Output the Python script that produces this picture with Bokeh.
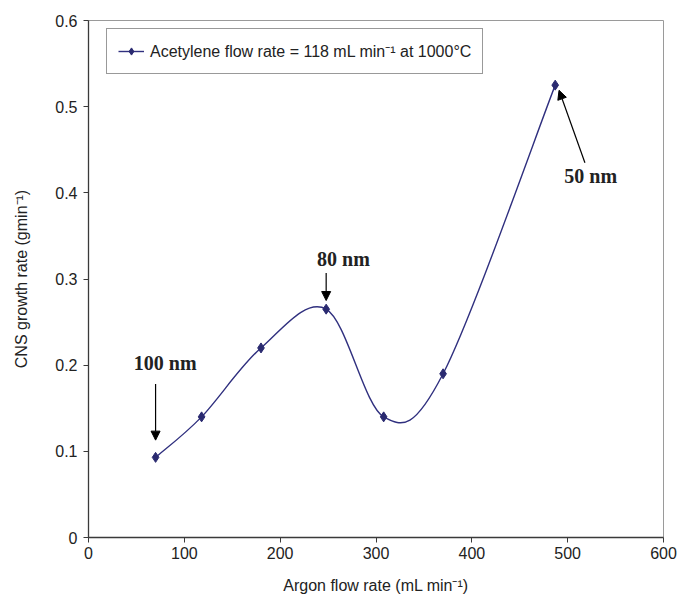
from bokeh.plotting import figure
from bokeh.models import (Range1d, FixedTicker, CustomJSTickFormatter, Arrow,
                          NormalHead, Legend, LegendItem, ColumnDataSource)
from bokeh.core.properties import value
from bokeh.embed import file_html
from bokeh.resources import INLINE
import numpy as np

# ---------------- data ----------------
argon_flow = [70, 118, 180, 248, 308, 370, 487]
growth_rate = [0.093, 0.14, 0.22, 0.265, 0.14, 0.19, 0.525]
x_ticks = [0, 100, 200, 300, 400, 500, 600]
y_ticks = [0, 0.1, 0.2, 0.3, 0.4, 0.5, 0.6]
series_label = "Acetylene flow rate = 118 mL min\u207b\u00b9 at 1000\u00b0C"
x_title = "Argon flow rate (mL min\u207b\u00b9)"
y_title = "CNS growth rate (gmin\u207b\u00b9)"

size_labels = ["100 nm", "80 nm", "50 nm"]
size_label_x = [80, 266, 524]
size_label_y = [0.203, 0.323, 0.42]
arrow_x_start = [70, 248, 518]
arrow_y_start = [0.178, 0.307, 0.435]
arrow_x_end = [70, 248, 491]
arrow_y_end = [0.113, 0.275, 0.519]

LINE_COLOR = "#30307f"
MARK_COLOR = "#2a2a70"

# ---------------- smooth curve (Catmull-Rom -> cubic Bezier) ----------------
xs = np.array(argon_flow, dtype=float)
ys = np.array(growth_rate, dtype=float)
n = len(xs)
px = np.concatenate([[xs[0]], xs, [xs[-1]]])
py = np.concatenate([[ys[0]], ys, [ys[-1]]])
seg = dict(x0=[], y0=[], x1=[], y1=[], cx0=[], cy0=[], cx1=[], cy1=[])
for i in range(n - 1):
    p0x, p1x, p2x, p3x = px[i], px[i + 1], px[i + 2], px[i + 3]
    p0y, p1y, p2y, p3y = py[i], py[i + 1], py[i + 2], py[i + 3]
    seg["x0"].append(p1x); seg["y0"].append(p1y)
    seg["x1"].append(p2x); seg["y1"].append(p2y)
    seg["cx0"].append(p1x + (p2x - p0x) / 6.0)
    seg["cy0"].append(p1y + (p2y - p0y) / 6.0)
    seg["cx1"].append(p2x - (p3x - p1x) / 6.0)
    seg["cy1"].append(p2y - (p3y - p1y) / 6.0)

# ---------------- figure ----------------
p = figure(frame_width=575, frame_height=517,
           min_border_left=88, min_border_right=14,
           min_border_top=20, min_border_bottom=66,
           x_range=Range1d(0, 600), y_range=Range1d(0, 0.6),
           output_backend="svg", toolbar_location=None,
           background_fill_color="white", border_fill_color="white")

p.outline_line_color = "#9a9a9a"
p.outline_line_width = 1
p.xgrid.visible = False
p.ygrid.visible = False

for ax in (p.xaxis[0], p.yaxis[0]):
    ax.axis_line_color = "#3a3a3a"
    ax.axis_line_width = 1.3
    ax.major_tick_line_color = "#3a3a3a"
    ax.major_tick_out = 5
    ax.major_tick_in = 0
    ax.minor_tick_line_color = None
    ax.major_label_text_font = "Liberation Sans"
    ax.major_label_text_font_size = "16px"
    ax.major_label_text_color = "#222222"
    ax.axis_label_text_font = "Liberation Sans"
    ax.axis_label_text_font_size = "16px"
    ax.axis_label_text_font_style = "normal"
    ax.axis_label_text_color = "#222222"

p.xaxis.ticker = FixedTicker(ticks=x_ticks)
p.yaxis.ticker = FixedTicker(ticks=y_ticks)
p.yaxis.formatter = CustomJSTickFormatter(
    code="var s = tick.toFixed(1); return s === '0.0' ? '0' : s;")
p.xaxis.formatter = CustomJSTickFormatter(code="return tick.toFixed(0);")
p.xaxis.axis_label = x_title
p.yaxis.axis_label = y_title
p.xaxis.major_label_standoff = 4
p.xaxis.axis_label_standoff = 15
p.yaxis.major_label_standoff = 6
p.yaxis.axis_label_standoff = 22

# curve
p.bezier(x0="x0", y0="y0", x1="x1", y1="y1", cx0="cx0", cy0="cy0",
         cx1="cx1", cy1="cy1", source=ColumnDataSource(seg),
         line_color=LINE_COLOR, line_width=1.4)
# legend line sample (single point: draws nothing in the plot)
leg_line = p.line(x=argon_flow[:1], y=growth_rate[:1],
                  line_color=LINE_COLOR, line_width=1.4)
pts = p.scatter(x=argon_flow, y=growth_rate, marker="diamond", size=10,
                fill_color=MARK_COLOR, line_color=MARK_COLOR)

# annotations
for i in range(len(size_labels)):
    p.add_layout(Arrow(end=NormalHead(size=9, fill_color="black",
                                      line_color="black"),
                       x_start=arrow_x_start[i], y_start=arrow_y_start[i],
                       x_end=arrow_x_end[i], y_end=arrow_y_end[i],
                       line_color="black", line_width=1.2))
p.text(x=size_label_x, y=size_label_y, text=size_labels,
       text_font=value("Liberation Serif"), text_font_style="bold",
       text_font_size="20px", text_color="#222222",
       text_align="center", text_baseline="middle")

legend = Legend(items=[LegendItem(label=series_label,
                                  renderers=[leg_line, pts])],
                location=(18, 463))
legend.label_text_font = "Liberation Sans"
legend.label_text_font_size = "16px"
legend.label_text_color = "#222222"
legend.glyph_width = 26
legend.glyph_height = 18
legend.label_standoff = 6
legend.padding = 11
legend.spacing = 0
legend.margin = 0
legend.border_line_color = "#333333"
legend.border_line_width = 1.3
legend.background_fill_color = "white"
legend.background_fill_alpha = 1
p.add_layout(legend)

open("out.html", "w").write(file_html(p, INLINE))
